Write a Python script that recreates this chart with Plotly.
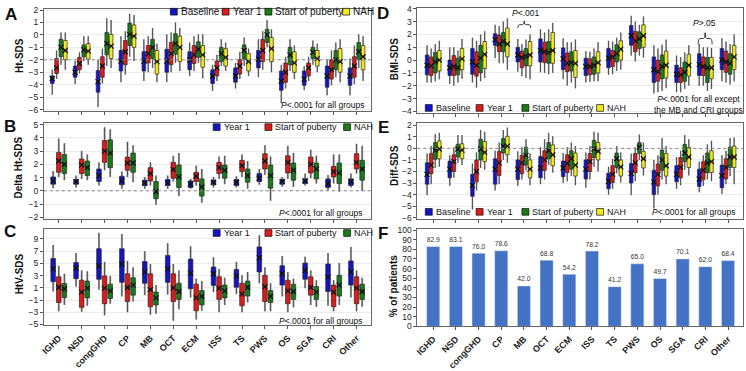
import plotly.graph_objects as go

W, H = 746, 371
FONT = "Liberation Sans, Arial, sans-serif"

categories = ["IGHD", "NSD", "congGHD", "CP", "MB", "OCT", "ECM", "ISS", "TS", "PWS", "OS", "SGA", "CRI", "Other"]

# each tuple: (lower whisker, Q1, median, Q3, upper whisker), one per category
A_baseline = [(-4.8, -3.9, -3.5, -3.3, -2.8), (-3.95, -3.4, -3.0, -2.5, -2.1), (-5.8, -4.6, -3.75, -2.85, -2.0),
              (-3.8, -2.9, -2.1, -1.25, -0.1), (-3.7, -2.9, -2.1, -1.35, -0.35), (-3.8, -3.0, -2.1, -1.15, 0.05),
              (-3.3, -2.8, -2.0, -1.35, -0.6), (-4.5, -3.9, -3.3, -2.8, -2.4), (-4.3, -3.8, -3.3, -2.65, -2.25),
              (-3.4, -2.65, -1.95, -1.25, -0.35), (-5.5, -4.45, -3.7, -2.9, -2.4), (-4.45, -4.05, -3.55, -2.9, -2.5),
              (-4.85, -4.2, -3.3, -2.5, -2.0), (-4.85, -4.05, -3.3, -2.65, -1.9)]
A_year1 = [(-3.55, -3.1, -2.65, -1.9, -1.25), (-3.1, -2.8, -2.3, -1.8, -1.4), (-3.9, -3.4, -2.5, -1.75, -1.1),
           (-3.2, -2.4, -1.35, -0.45, 0.3), (-3.0, -2.25, -1.5, -0.85, -0.1), (-3.0, -2.4, -1.5, -0.6, 0.2),
           (-2.9, -2.3, -1.6, -0.85, -0.1), (-3.7, -3.3, -2.65, -2.1, -1.6), (-3.55, -3.15, -2.5, -2.0, -1.35),
           (-2.8, -2.15, -1.25, -0.35, 0.3), (-4.3, -3.8, -3.0, -2.25, -1.75), (-3.7, -3.3, -2.65, -2.25, -1.75),
           (-4.05, -3.55, -2.8, -2.0, -1.25), (-3.95, -3.4, -2.5, -1.75, -0.85)]
A_puberty = [(-2.4, -1.75, -1.0, -0.35, 0.2), (-2.1, -1.75, -1.2, -0.8, -0.1), (-2.5, -1.6, -0.7, 0.2, 1.35),
             (-1.75, -0.85, 0.05, 0.95, 1.7), (-2.65, -1.9, -1.0, -0.35, 0.55), (-2.25, -1.55, -0.7, 0.1, 1.0),
             (-2.25, -1.8, -1.15, -0.55, 0.05), (-2.5, -2.15, -1.5, -1.0, -0.35), (-2.5, -1.95, -1.25, -0.8, -0.2),
             (-1.0, -0.6, 0.0, 0.45, 1.2), (-2.9, -2.4, -1.6, -1.0, -0.35), (-2.4, -1.9, -1.4, -1.0, -0.45),
             (-3.4, -2.8, -2.0, -1.25, -0.6), (-2.65, -2.0, -1.35, -0.6, 0.05)]
A_nah = [(-2.8, -2.0, -1.25, -0.45, 0.2), (-2.4, -1.95, -1.3, -0.7, -0.1), (-2.65, -1.9, -0.9, 0.05, 1.2),
         (-2.1, -1.0, -0.1, 0.8, 1.6), (-3.8, -3.15, -2.15, -1.25, -0.7), (-2.9, -2.15, -1.0, -0.1, 0.55),
         (-3.5, -2.6, -1.6, -0.85, 0.05), (-2.9, -2.5, -1.8, -1.1, -0.6), (-3.3, -2.9, -2.15, -1.5, -1.1),
         (-3.0, -2.15, -1.1, -0.2, 0.45), (-3.55, -3.0, -2.25, -1.35, -0.85), (-3.0, -2.5, -1.9, -1.25, -0.7),
         (-3.8, -3.0, -2.15, -1.1, -0.35), (-3.7, -2.8, -1.75, -0.85, -0.1)]

B_year1 = [(0.2, 0.5, 0.75, 1.05, 1.5), (0.25, 0.5, 0.7, 0.85, 1.15), (0.4, 0.7, 1.15, 1.65, 2.15),
           (0.15, 0.45, 0.75, 1.1, 1.45), (0.15, 0.4, 0.6, 0.8, 1.05), (0.15, 0.4, 0.6, 0.85, 1.15),
           (0.15, 0.25, 0.5, 0.75, 0.9), (0.25, 0.45, 0.65, 0.8, 1.05), (0.25, 0.4, 0.65, 0.85, 1.1),
           (0.45, 0.7, 0.95, 1.3, 1.65), (0.3, 0.5, 0.7, 0.85, 1.05), (0.4, 0.55, 0.75, 0.9, 1.3),
           (0.05, 0.25, 0.55, 0.9, 1.2), (0.25, 0.4, 0.7, 0.9, 1.3)]
B_puberty = [(1.05, 1.4, 2.25, 2.9, 3.95), (0.9, 1.3, 1.95, 2.4, 3.0), (1.55, 2.15, 3.0, 3.8, 4.8),
             (1.05, 1.55, 2.1, 2.55, 3.7), (0.4, 0.75, 1.3, 1.75, 2.15), (0.7, 0.95, 1.6, 2.15, 2.65),
             (0.4, 0.7, 1.1, 1.4, 1.9), (0.9, 1.3, 1.75, 2.15, 2.6), (1.05, 1.45, 1.9, 2.3, 2.75),
             (1.2, 1.65, 2.25, 2.8, 3.45), (0.9, 1.35, 2.15, 2.65, 3.4), (0.95, 1.35, 2.0, 2.55, 3.1),
             (0.55, 1.05, 1.45, 1.85, 2.75), (1.3, 1.65, 2.15, 2.8, 3.55)]
B_nah = [(0.8, 1.3, 2.0, 2.75, 3.6), (0.8, 1.15, 1.75, 2.25, 2.75), (1.05, 1.75, 2.85, 3.85, 4.65),
         (0.65, 1.4, 2.1, 2.85, 3.45), (-1.05, -0.6, -0.05, 0.7, 1.15), (-0.4, 0.25, 1.05, 1.95, 2.85),
         (-0.9, -0.4, 0.3, 0.9, 1.65), (0.5, 0.95, 1.55, 1.95, 2.65), (0.15, 0.65, 1.15, 1.65, 2.25),
         (-0.75, 0.2, 1.15, 1.95, 2.6), (0.3, 0.8, 1.55, 2.1, 2.85), (0.55, 0.9, 1.65, 2.1, 2.65),
         (-0.05, 0.55, 1.35, 2.1, 2.75), (0.0, 0.8, 1.65, 2.3, 3.4)]

C_year1 = [(0.4, 2.0, 4.1, 5.8, 8.0), (1.2, 2.5, 4.2, 5.15, 6.7), (0.7, 2.4, 4.6, 7.4, 10.0),
           (-0.4, 1.9, 4.9, 7.4, 9.8), (-0.2, 1.75, 3.6, 5.3, 7.0), (-0.1, 1.9, 4.1, 6.3, 8.3),
           (-0.6, 0.85, 3.4, 5.7, 7.8), (0.3, 1.4, 3.3, 4.4, 6.0), (0.0, 1.1, 2.95, 4.0, 5.25),
           (1.75, 3.6, 5.95, 7.7, 9.6), (-0.4, 1.45, 3.3, 4.6, 6.2), (0.95, 2.4, 3.85, 5.05, 6.1),
           (-1.95, 0.4, 2.8, 4.9, 6.7), (-0.6, 1.45, 3.6, 5.4, 7.7)]
C_puberty = [(-2.85, -1.4, 1.1, 2.8, 4.6), (-2.9, -2.2, 0.3, 2.25, 3.85), (-3.5, -1.6, 0.95, 2.95, 5.25),
             (-3.0, -1.25, 1.05, 3.3, 5.4), (-3.4, -2.1, 0.7, 3.3, 4.9), (-4.4, -1.25, 1.0, 3.3, 4.9),
             (-4.2, -2.75, -0.65, 1.6, 2.5), (-3.0, -0.9, 0.95, 2.8, 4.1), (-3.0, -1.95, 0.0, 1.75, 3.05),
             (-2.85, -1.25, 1.2, 3.05, 4.35), (-3.0, -1.6, 0.5, 2.25, 3.6), (-1.8, -0.2, 1.05, 2.8, 3.85),
             (-2.85, -2.1, 0.3, 1.45, 2.25), (-2.85, -1.6, 0.95, 2.8, 3.85)]
C_nah = [(-1.8, -0.6, 0.85, 1.7, 3.3), (-1.95, -0.65, 0.95, 2.1, 3.7), (-1.6, -0.75, 0.5, 1.6, 2.95),
         (-1.25, -0.2, 1.45, 2.65, 4.35), (-3.25, -1.8, -0.65, 0.3, 1.45), (-2.5, -0.9, 0.4, 1.75, 3.85),
         (-2.75, -1.8, -0.4, 0.55, 2.1), (-1.8, -0.65, 0.5, 1.45, 2.65), (-1.4, -0.35, 1.05, 2.1, 3.6),
         (-2.85, -1.4, -0.4, 0.55, 1.75), (-2.2, -0.9, 0.4, 1.6, 2.5), (-2.1, -0.9, 0.3, 1.2, 2.25),
         (-1.8, -0.35, 1.45, 3.05, 5.05), (-2.1, -0.9, 0.4, 1.6, 2.65)]

D_baseline = [(-1.75, -1.15, -0.4, 0.4, 1.15), (-1.85, -1.2, -0.6, 0.0, 1.0), (-1.75, -1.1, -0.15, 0.9, 1.75),
              (0.15, 1.15, 1.6, 2.05, 2.75), (-0.9, -0.15, 0.4, 1.0, 1.65), (-0.95, -0.15, 0.75, 1.65, 2.4),
              (-1.5, -0.75, 0.1, 0.95, 1.7), (-1.75, -1.2, -0.5, 0.15, 0.7), (-1.15, -0.6, 0.15, 0.9, 1.5),
              (0.35, 1.15, 1.9, 2.7, 3.45), (-2.6, -1.75, -0.75, 0.25, 1.15), (-2.5, -1.75, -1.1, -0.4, 0.35),
              (-2.0, -1.2, -0.35, 0.5, 1.25), (-1.65, -0.75, 0.0, 0.9, 1.7)]
D_year1 = [(-1.75, -1.2, -0.45, 0.25, 0.9), (-2.0, -1.2, -0.5, 0.35, 1.0), (-2.15, -1.25, -0.4, 0.65, 1.5),
           (-0.25, 0.65, 1.25, 1.95, 2.65), (-1.25, -0.6, 0.2, 0.7, 1.25), (-1.0, -0.2, 0.65, 1.4, 2.15),
           (-2.0, -0.9, -0.25, 0.55, 1.4), (-1.7, -1.15, -0.5, 0.1, 0.65), (-1.1, -0.5, 0.25, 0.75, 1.45),
           (-0.1, 0.65, 1.5, 2.25, 3.0), (-2.5, -1.65, -0.9, 0.0, 0.9), (-2.5, -1.75, -1.15, -0.6, 0.25),
           (-2.0, -1.2, -0.5, 0.25, 1.0), (-1.75, -0.95, -0.15, 0.7, 1.45)]
D_puberty = [(-1.65, -1.0, -0.15, 0.6, 1.25), (-1.75, -1.15, -0.6, 0.15, 0.75), (-1.65, -1.0, 0.15, 1.15, 2.0),
             (-0.25, 0.65, 1.45, 2.15, 3.0), (-1.4, -0.45, 0.3, 0.9, 1.6), (-1.1, -0.25, 0.6, 1.45, 2.4),
             (-1.75, -0.85, -0.2, 0.65, 1.4), (-1.65, -1.1, -0.4, 0.25, 0.9), (-0.85, -0.15, 0.5, 1.2, 1.75),
             (0.35, 0.9, 1.65, 2.2, 2.75), (-2.4, -1.45, -0.5, 0.4, 1.2), (-2.25, -1.65, -0.95, -0.15, 0.6),
             (-2.4, -1.75, -0.6, 0.2, 1.0), (-1.9, -1.1, -0.25, 0.5, 1.25)]
D_nah = [(-1.5, -0.85, 0.0, 0.75, 1.5), (-1.45, -0.75, 0.1, 0.9, 1.65), (-1.4, -0.65, 0.45, 1.45, 2.25),
         (-0.75, 0.25, 1.25, 2.5, 3.25), (-1.5, -0.45, 0.4, 1.45, 2.0), (-1.0, -0.25, 0.75, 2.15, 2.9),
         (-2.2, -1.35, -0.25, 0.75, 1.6), (-1.65, -1.0, -0.2, 0.65, 1.4), (-0.75, 0.0, 0.85, 1.5, 2.15),
         (0.2, 1.0, 1.9, 2.75, 3.4), (-2.2, -1.4, -0.4, 0.7, 1.6), (-2.0, -1.25, -0.4, 0.45, 1.15),
         (-2.25, -1.45, -0.6, 0.2, 0.95), (-1.65, -0.75, 0.25, 1.15, 2.0)]

E_baseline = [(-4.05, -3.1, -2.25, -1.25, -0.45), (-3.25, -2.55, -1.8, -1.1, -0.6), (-5.3, -4.15, -3.2, -2.25, -1.3),
              (-3.65, -3.1, -1.8, -0.9, -0.2), (-3.25, -2.7, -1.8, -1.0, -0.25), (-3.1, -2.55, -1.7, -0.7, 0.1),
              (-3.0, -2.45, -1.7, -1.1, -0.4), (-3.4, -2.65, -1.8, -1.0, -0.35), (-4.0, -3.5, -2.85, -2.15, -1.6),
              (-4.05, -3.0, -2.15, -1.3, -0.45), (-5.2, -4.0, -2.9, -1.9, -1.0), (-3.5, -2.9, -2.25, -1.5, -0.75),
              (-3.8, -3.3, -2.65, -1.8, -1.15), (-3.95, -3.4, -2.35, -1.45, -0.6)]
E_year1 = [(-3.1, -2.2, -1.45, -0.45, 0.2), (-2.55, -2.0, -1.15, -0.55, 0.1), (-3.65, -2.9, -2.0, -1.0, -0.35),
           (-3.1, -2.35, -1.25, -0.25, 0.5), (-2.7, -2.2, -1.25, -0.6, 0.1), (-2.7, -1.9, -1.0, -0.2, 0.8),
           (-2.85, -2.1, -1.3, -0.55, 0.1), (-2.7, -2.0, -1.15, -0.45, 0.2), (-3.5, -2.95, -2.25, -1.5, -0.9),
           (-2.85, -2.1, -1.25, -0.45, 0.1), (-4.0, -3.25, -2.25, -1.35, -0.6), (-3.2, -2.55, -1.65, -0.8, -0.2),
           (-3.25, -2.7, -1.9, -1.15, -0.6), (-3.1, -2.65, -1.65, -0.9, -0.2)]
E_puberty = [(-1.7, -0.95, -0.15, 0.5, 1.25), (-1.25, -0.75, -0.05, 0.35, 1.15), (-1.7, -1.0, -0.05, 0.8, 1.6),
             (-1.0, -0.4, 0.2, 0.85, 1.6), (-1.9, -1.45, -0.6, 0.1, 0.8), (-1.45, -0.9, -0.2, 0.5, 1.35),
             (-2.4, -1.8, -0.9, -0.2, 0.5), (-1.6, -0.8, -0.05, 0.7, 1.45), (-2.15, -1.65, -0.9, -0.4, 0.2),
             (-1.0, -0.45, 0.1, 0.5, 1.2), (-2.7, -1.9, -1.0, -0.15, 0.9), (-1.85, -1.15, -0.4, 0.35, 1.15),
             (-2.7, -2.1, -1.25, -0.4, 0.35), (-2.4, -1.65, -0.75, 0.1, 0.9)]
E_nah = [(-1.6, -0.9, -0.05, 0.65, 1.35), (-1.45, -0.9, -0.15, 0.4, 1.15), (-1.85, -1.15, -0.35, 0.6, 1.45),
         (-1.25, -0.55, 0.2, 1.05, 1.8), (-3.2, -2.55, -1.8, -1.0, -0.45), (-2.1, -1.5, -0.55, 0.3, 1.05),
         (-3.2, -2.4, -1.45, -0.4, 0.2), (-2.0, -1.0, -0.25, 0.5, 1.35), (-2.95, -2.4, -1.6, -1.0, -0.35),
         (-2.35, -1.7, -0.9, -0.25, 0.5), (-3.1, -2.4, -1.5, -0.45, 0.2), (-2.35, -1.65, -0.75, 0.1, 0.8),
         (-2.85, -2.1, -1.15, -0.2, 0.65), (-3.1, -1.65, -0.75, 0.2, 0.95)]

F_percent = [82.9, 83.1, 76.0, 78.6, 42.0, 68.8, 54.2, 78.2, 41.2, 65.0, 49.7, 70.1, 62.0, 68.4]

names4 = ["Baseline", "Year 1", "Start of puberty", "NAH"]
names3 = ["Year 1", "Start of puberty", "NAH"]
BLUE, RED, GREEN, YELLOW = "#1414c4", "#dc1a1a", "#1a7a1a", "#f0ea1c"
colors4 = [BLUE, RED, GREEN, YELLOW]
colors3 = [BLUE, RED, GREEN]

fig = go.Figure()


def add_boxes(series, colors, names, sfx, spacing, width):
    n = len(series)
    for k, (data, col, name) in enumerate(zip(series, colors, names)):
        off = (k - (n - 1) / 2) * spacing
        xs = [i + off for i in range(len(categories))]
        lo = [d[0] for d in data]
        q1 = [d[1] for d in data]
        md = [d[2] for d in data]
        q3 = [d[3] for d in data]
        hi = [d[4] for d in data]
        # grey whisker band
        fig.add_trace(go.Box(x=xs, q1=lo, median=md, q3=hi, lowerfence=lo, upperfence=hi,
                             orientation="v", width=width * 0.45, fillcolor="#a8a8a8",
                             line=dict(color="#a8a8a8", width=0), boxpoints=False,
                             xaxis="x" + sfx, yaxis="y" + sfx, showlegend=False, hoverinfo="skip"))
        fig.add_trace(go.Box(x=xs, q1=q1, median=md, q3=q3, lowerfence=lo, upperfence=hi,
                             orientation="v", width=width, fillcolor=col, whiskerwidth=0,
                             line=dict(color="#2a2a2a", width=0.7), boxpoints=False, name=name,
                             xaxis="x" + sfx, yaxis="y" + sfx, showlegend=False))
        fig.add_trace(go.Scatter(x=xs, y=md, mode="markers", xaxis="x" + sfx, yaxis="y" + sfx,
                                 marker=dict(symbol="x-thin", size=5, line=dict(width=1.2, color="#111")),
                                 showlegend=False, hoverinfo="skip"))


add_boxes([A_baseline, A_year1, A_puberty, A_nah], colors4, names4, "", 0.19, 0.16)
add_boxes([B_year1, B_puberty, B_nah], colors3, names3, "2", 0.245, 0.2)
add_boxes([C_year1, C_puberty, C_nah], colors3, names3, "3", 0.245, 0.2)
add_boxes([D_baseline, D_year1, D_puberty, D_nah], colors4, names4, "4", 0.18, 0.155)
add_boxes([E_baseline, E_year1, E_puberty, E_nah], colors4, names4, "5", 0.18, 0.155)

fig.add_trace(go.Bar(x=list(range(len(categories))), y=F_percent, width=0.58, marker_color="#4472c4",
                     text=[f"{v:.1f}" for v in F_percent], textposition="outside", cliponaxis=False,
                     textfont=dict(size=9, color="#333", family=FONT), xaxis="x6", yaxis="y6",
                     showlegend=False))

# panel geometry in pixels: (x0, x1, ytop, ybottom)
geo = {
    "": (41, 369, 5, 111), "2": (41, 369, 124, 223), "3": (41, 369, 234, 334),
    "4": (416, 743, 4, 113), "5": (416, 743, 124, 223), "6": (416, 743, 234, 335),
}
yranges = {"": [-6.1, 2.1], "2": [-2.1, 5.1], "3": [-5.15, 10.6], "4": [-4.1, 4.07], "5": [-6.08, 2.17], "6": [0, 101]}
ydticks = {"": (-6, 1), "2": (-2, 1), "3": (-5, 2), "4": (-4, 1), "5": (-6, 1), "6": (0, 10)}
xranges = {"": [-0.652, 13.61], "2": [-0.652, 13.61], "3": [-0.652, 13.61],
           "4": [-0.70, 13.66], "5": [-0.70, 13.66], "6": [-0.70, 13.66]}

layout = dict(width=W, height=H, margin=dict(l=0, r=0, t=0, b=0), paper_bgcolor="white",
              plot_bgcolor="white", boxmode="overlay", font=dict(family=FONT, color="#222"),
              shapes=[], annotations=[])
for s, (x0, x1, yt, yb) in geo.items():
    show = s in ("3", "6")
    layout["xaxis" + s] = dict(domain=[x0 / W, x1 / W], range=xranges[s], anchor="y" + s,
                               tickvals=list(range(len(categories))),
                               ticktext=[f"<b>{c}</b>" for c in categories] if show else [""] * len(categories),
                               tickangle=-45, tickfont=dict(size=9, family=FONT, color="#222"),
                               ticks="outside", ticklen=3, tickcolor="#555", showline=True, mirror=True,
                               linecolor="#666", linewidth=1, showgrid=False, zeroline=False)
    t0, dt = ydticks[s]
    layout["yaxis" + s] = dict(domain=[1 - yb / H, 1 - yt / H], range=yranges[s], anchor="x" + s,
                               tick0=t0, dtick=dt, ticks="outside", ticklen=3, tickcolor="#555",
                               tickfont=dict(size=8.5, family=FONT, color="#222"), showline=True,
                               mirror=True, linecolor="#666", linewidth=1, showgrid=(s != "6"),
                               gridcolor="#ececec", zeroline=False)

# reference lines
for s, yv in (("", -2), ("2", 0), ("5", 0)):
    layout["shapes"].append(dict(type="line", xref="x" + s + " domain" if s else "x domain", yref="y" + s,
                                 x0=0, x1=1, y0=yv, y1=yv, line=dict(color="#888", width=1, dash="dot")))

ann = layout["annotations"]


def text(x, y, t, size=9, xanchor="left", bold=False, angle=0):
    ann.append(dict(xref="paper", yref="paper", x=x / W, y=1 - y / H, text=f"<b>{t}</b>" if bold else t,
                    showarrow=False, xanchor=xanchor, yanchor="middle", textangle=angle,
                    font=dict(size=size, family=FONT, color="#111")))


# panel letters
for L, x, y in (("A", 8, 11), ("B", 7, 127), ("C", 7, 236), ("D", 382, 10), ("E", 382, 128), ("F", 382, 238)):
    text(x, y, L, size=17, xanchor="center", bold=True)

# y-axis titles
for t, x, y in (("Ht-SDS", 17, 53), ("Delta Ht-SDS", 16, 170), ("HtV-SDS", 16, 280),
                ("BMI-SDS", 393, 57), ("Diff-SDS", 393, 168), ("% of patients", 393, 293)):
    text(x, y, t, size=10, xanchor="center", bold=True, angle=-90)


# manual legends
def legend(items, cols, sq_x, ty, size):
    for name, col, sx in zip(items, cols, sq_x):
        layout["shapes"].append(dict(type="rect", xref="paper", yref="paper", x0=sx / W, x1=(sx + 7) / W,
                                     y0=1 - (ty + 3.5) / H, y1=1 - (ty - 3.5) / H, fillcolor=col,
                                     line=dict(color="#111", width=0.7)))
        text(sx + 8.5, ty, name, size=size)


legend(names4, colors4, [168, 220, 263, 341], 8, 10)
legend(names3, colors3, [211, 263, 342], 128, 9)
legend(names3, colors3, [211, 263, 342], 238, 9)
legend(names4, colors4, [424, 475, 521, 596], 108, 9)
legend(names4, colors4, [424, 475, 521, 596], 216, 9)

# p-value notes
pnote = "<i>P</i>&lt;.0001 for all groups"
text(364, 105, pnote, size=8.5, xanchor="right")
text(362, 217, pnote, size=8.5, xanchor="right")
text(362, 329, pnote, size=8.5, xanchor="right")
text(737, 216, pnote, size=8.5, xanchor="right")
text(698, 104, "<i>P</i>&lt;.0001 for all except<br>the MB and CRI groups", size=8.5, xanchor="center")

# braces in panel D
def brace(x1, x2, yb, ym, yt):
    xc = (x1 + x2) / 2
    d = 0.07
    path = (f"M {x1},{yb} Q {x1},{ym} {x1 + d},{ym} L {xc - d},{ym} Q {xc},{ym} {xc},{yt} "
            f"Q {xc},{ym} {xc + d},{ym} L {x2 - d},{ym} Q {x2},{ym} {x2},{yb}")
    layout["shapes"].append(dict(type="path", xref="x4", yref="y4", path=path, line=dict(color="#111", width=0.8)))


brace(3.73, 4.30, 2.5, 2.76, 3.05)
brace(11.68, 12.3, 1.23, 1.68, 2.13)
ann.append(dict(xref="x4", yref="y4", x=4.08, y=3.67, text="<i>P</i>&lt;.001", showarrow=False,
                font=dict(size=8.5, family=FONT, color="#111")))
ann.append(dict(xref="x4", yref="y4", x=11.95, y=2.87, text="<i>P</i>&gt;.05", showarrow=False,
                font=dict(size=8.5, family=FONT, color="#111")))

fig.update_layout(**layout)
fig.write_html("out.html", config={"displayModeBar": False},
               post_script="document.body.style.margin='0';document.body.style.overflow='hidden';")
